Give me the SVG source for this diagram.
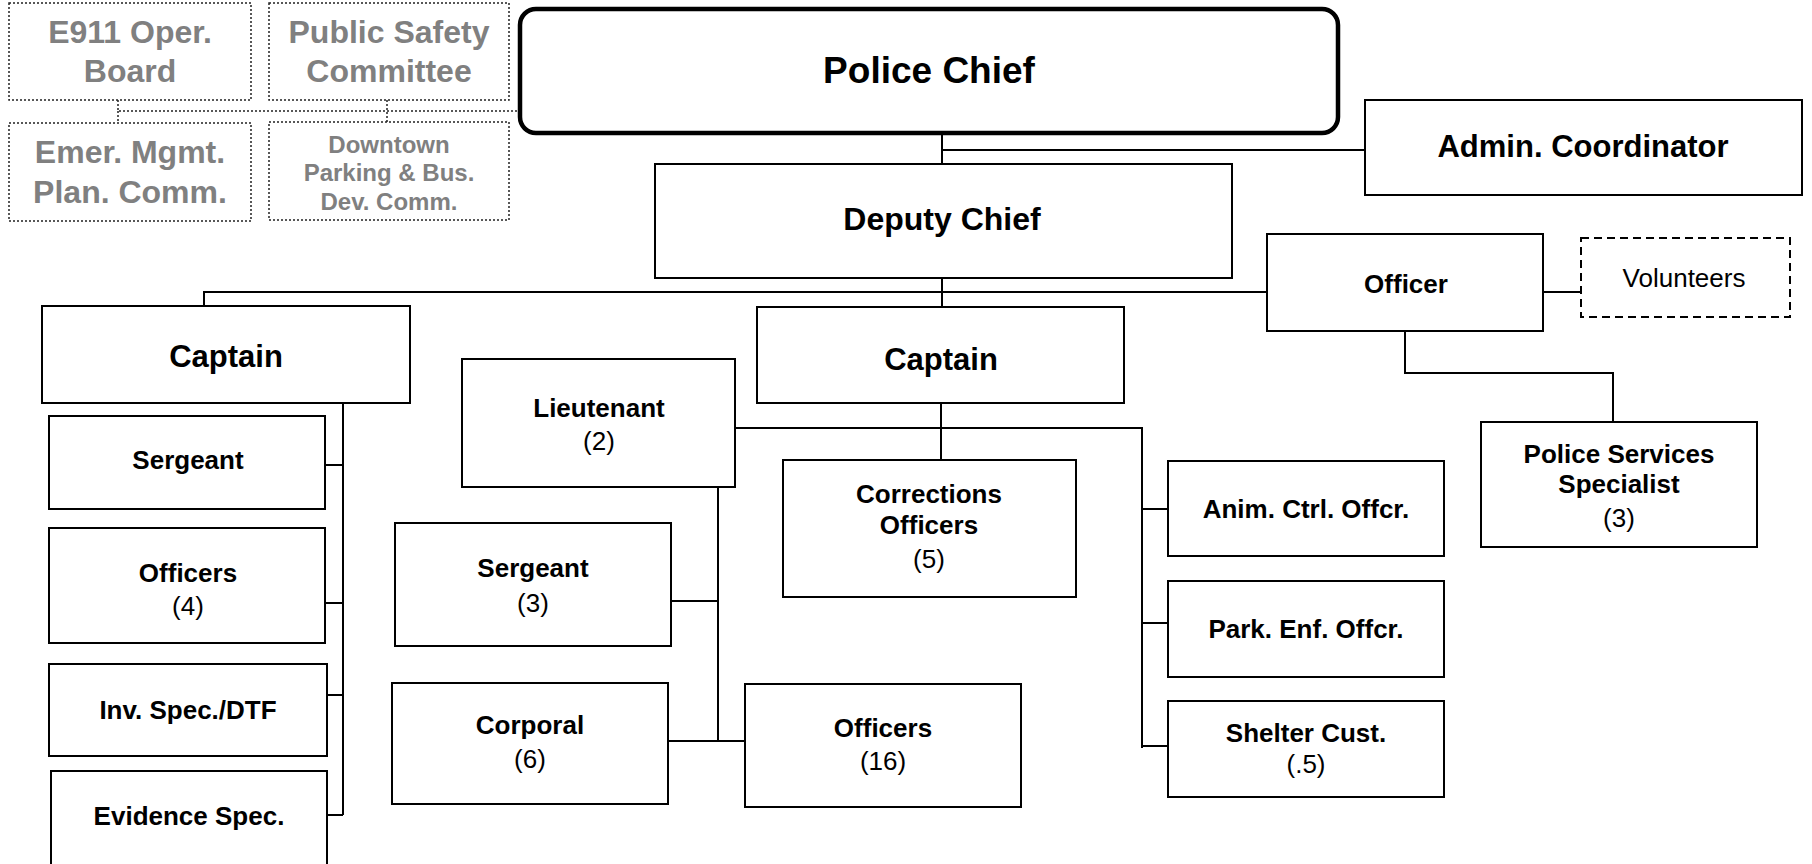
<svg xmlns="http://www.w3.org/2000/svg" width="1812" height="864" viewBox="0 0 1812 864">
<style>
.bx{fill:#fff;stroke:#000;stroke-width:2}
.dot{fill:#fff;stroke:#222;stroke-width:1.5;stroke-dasharray:2 2}
.dash{fill:#fff;stroke:#000;stroke-width:2;stroke-dasharray:8 5}
.ln{fill:none;stroke:#000;stroke-width:2}
.dl{fill:none;stroke:#222;stroke-width:1.5;stroke-dasharray:2 2}
text{font-family:"Liberation Sans",Arial,sans-serif;text-anchor:middle;fill:#000}
.b{font-weight:bold;font-size:26px}
.r{font-size:26px}
.g{font-weight:bold;fill:#808080;font-size:32px}
.gs{font-weight:bold;fill:#808080;font-size:24px}
</style>
<rect width="1812" height="864" fill="#fff"/>
<g id="connectors">
<path class="dl" d="M118 100V111H520M387 100V122M118 111V123"/>
<path class="ln" d="M942 133V164M942 150H1365"/>
<path class="ln" d="M942 278V307M204 306V292H1267"/>
<path class="ln" d="M1543 292H1581"/>
<path class="ln" d="M1405 331V373H1613V422"/>
<path class="ln" d="M343 403V815M325 465H343M325 603H343M327 695H343M327 815H343"/>
<path class="ln" d="M941 403V460M735 428H1142V748M1142 509H1168M1142 623H1168M1142 746H1168"/>
<path class="ln" d="M718 487V741M671 601H718M668 741H745"/>
</g>
<g id="e911"><rect class="dot" x="9" y="3" width="242" height="97"/><text class="g" x="130" y="43">E911 Oper.</text><text class="g" x="130" y="82">Board</text></g>
<g id="public-safety"><rect class="dot" x="269" y="3" width="240" height="97"/><text class="g" x="389" y="43">Public Safety</text><text class="g" x="389" y="82">Committee</text></g>
<g id="emer-mgmt"><rect class="dot" x="9" y="123" width="242" height="98"/><text class="g" x="130" y="163">Emer. Mgmt.</text><text class="g" x="130" y="203">Plan. Comm.</text></g>
<g id="downtown"><rect class="dot" x="269" y="122" width="240" height="98"/><text class="gs" x="389" y="153">Downtown</text><text class="gs" x="389" y="181">Parking &amp; Bus.</text><text class="gs" x="389" y="210">Dev. Comm.</text></g>
<g id="police-chief"><rect x="520" y="9" width="818" height="124" rx="16" fill="#fff" stroke="#000" stroke-width="4.5"/><text x="929" y="83" font-weight="bold" font-size="37">Police Chief</text></g>
<g id="admin"><rect class="bx" x="1365" y="100" width="437" height="95"/><text x="1583" y="157" font-weight="bold" font-size="31">Admin. Coordinator</text></g>
<g id="deputy-chief"><rect class="bx" x="655" y="164" width="577" height="114"/><text x="942" y="230" font-weight="bold" font-size="32">Deputy Chief</text></g>
<g id="officer"><rect class="bx" x="1267" y="234" width="276" height="97"/><text class="b" x="1406" y="293">Officer</text></g>
<g id="volunteers"><rect class="dash" x="1581" y="238" width="209" height="79"/><text class="r" x="1684" y="287">Volunteers</text></g>
<g id="captain-left"><rect class="bx" x="42" y="306" width="368" height="97"/><text x="226" y="367" font-weight="bold" font-size="31">Captain</text></g>
<g id="captain-center"><rect class="bx" x="757" y="307" width="367" height="96"/><text x="941" y="370" font-weight="bold" font-size="31">Captain</text></g>
<g id="pss"><rect class="bx" x="1481" y="422" width="276" height="125"/><text class="b" x="1619" y="463">Police Services</text><text class="b" x="1619" y="493">Specialist</text><text class="r" x="1619" y="527">(3)</text></g>
<g id="sergeant-left"><rect class="bx" x="49" y="416" width="276" height="93"/><text class="b" x="188" y="469">Sergeant</text></g>
<g id="officers-4"><rect class="bx" x="49" y="528" width="276" height="115"/><text class="b" x="188" y="582">Officers</text><text class="r" x="188" y="615">(4)</text></g>
<g id="inv-spec"><rect class="bx" x="49" y="664" width="278" height="92"/><text class="b" x="188" y="719">Inv. Spec./DTF</text></g>
<g id="evidence"><rect class="bx" x="51" y="771" width="276" height="110"/><text class="b" x="189" y="825">Evidence Spec.</text></g>
<g id="lieutenant"><rect class="bx" x="462" y="359" width="273" height="128"/><text class="b" x="599" y="417">Lieutenant</text><text class="r" x="599" y="450">(2)</text></g>
<g id="sergeant-3"><rect class="bx" x="395" y="523" width="276" height="123"/><text class="b" x="533" y="577">Sergeant</text><text class="r" x="533" y="612">(3)</text></g>
<g id="corporal"><rect class="bx" x="392" y="683" width="276" height="121"/><text class="b" x="530" y="734">Corporal</text><text class="r" x="530" y="768">(6)</text></g>
<g id="officers-16"><rect class="bx" x="745" y="684" width="276" height="123"/><text class="b" x="883" y="737">Officers</text><text class="r" x="883" y="770">(16)</text></g>
<g id="corrections"><rect class="bx" x="783" y="460" width="293" height="137"/><text class="b" x="929" y="503">Corrections</text><text class="b" x="929" y="534">Officers</text><text class="r" x="929" y="568">(5)</text></g>
<g id="anim"><rect class="bx" x="1168" y="461" width="276" height="95"/><text class="b" x="1306" y="518">Anim. Ctrl. Offcr.</text></g>
<g id="park"><rect class="bx" x="1168" y="581" width="276" height="96"/><text class="b" x="1306" y="638">Park. Enf. Offcr.</text></g>
<g id="shelter"><rect class="bx" x="1168" y="701" width="276" height="96"/><text class="b" x="1306" y="742">Shelter Cust.</text><text class="r" x="1306" y="773">(.5)</text></g>
</svg>
